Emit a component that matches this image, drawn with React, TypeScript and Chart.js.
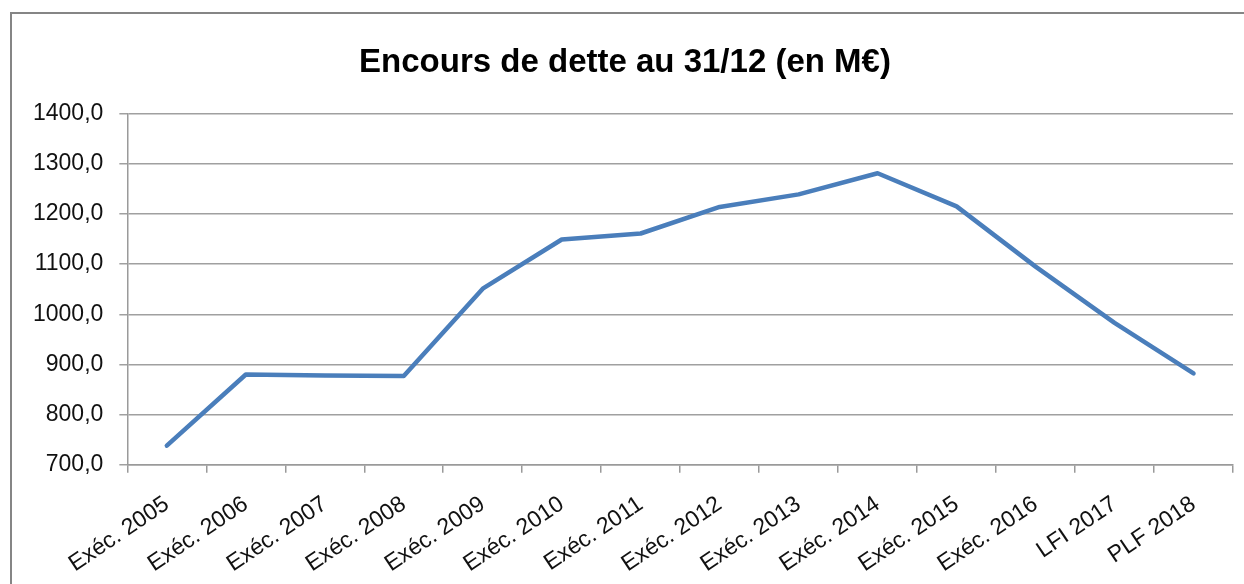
import React, { useEffect, useRef } from "react";
import { Chart, registerables } from "chart.js";

Chart.register(...registerables);

const categories = [
  "Exéc. 2005", "Exéc. 2006", "Exéc. 2007", "Exéc. 2008", "Exéc. 2009",
  "Exéc. 2010", "Exéc. 2011", "Exéc. 2012", "Exéc. 2013", "Exéc. 2014",
  "Exéc. 2015", "Exéc. 2016", "LFI 2017", "PLF 2018",
];
const encours = [738, 880, 878, 877, 1051, 1149, 1161, 1214, 1239, 1281, 1215, 1095, 983, 882];
const titleText = "Encours de dette au 31/12 (en M€)";
const yMin = 700;
const yMax = 1400;
const yStep = 100;

export default function App() {
  const ref = useRef<HTMLCanvasElement | null>(null);
  useEffect(() => {
    if (!ref.current) return;
    const chart = new Chart(ref.current, {
      type: "line",
      data: {
        labels: categories,
        datasets: [
          {
            data: encours,
            borderColor: "#4A7EBB",
            borderWidth: 4.5,
            pointRadius: 0,
            borderCapStyle: "round",
            borderJoinStyle: "round",
            tension: 0,
          },
        ],
      },
      options: {
        animation: false,
        responsive: false,
        maintainAspectRatio: false,
        layout: { padding: { left: 17, right: 11, top: 31, bottom: -12 } },
        plugins: {
          legend: { display: false },
          tooltip: { enabled: false },
          title: {
            display: true,
            text: titleText,
            color: "#000",
            font: { family: "Liberation Sans", size: 33, weight: "bold" },
            padding: { top: 12, bottom: 31 },
          },
        },
        scales: {
          x: {
            offset: true,
            grid: {
              offset: true,
              drawOnChartArea: false,
              drawTicks: true,
              tickLength: 8,
              color: "#9a9a9a",
              lineWidth: 1.5,
            },
            border: { color: "#9a9a9a", width: 1.5 },
            ticks: {
              minRotation: 34,
              maxRotation: 34,
              autoSkip: false,
              padding: 18,
              color: "#111",
              font: { family: "Liberation Sans", size: 23 },
            },
          },
          y: {
            min: yMin,
            max: yMax,
            grid: {
              color: "#a0a0a0",
              lineWidth: 1.5,
              tickLength: 8,
            },
            border: { color: "#9a9a9a", width: 1.5 },
            ticks: {
              stepSize: yStep,
              padding: 16,
              color: "#111",
              font: { family: "Liberation Sans", size: 23 },
              callback: (v: any) => Number(v).toFixed(1).replace(".", ","),
            },
          },
        },
      },
    });
    return () => chart.destroy();
  }, []);

  return (
    <div style={{ position: "fixed", left: 0, top: 0, width: 1244, height: 584, background: "#fff" }}>
      <canvas ref={ref} width={1244} height={584} style={{ position: "absolute", left: 0, top: 0 }} />
      <div
        style={{
          position: "absolute",
          left: 10,
          top: 12,
          width: 1260,
          height: 600,
          borderLeft: "2.5px solid #858585",
          borderTop: "2.5px solid #858585",
          pointerEvents: "none",
        }}
      />
    </div>
  );
}
